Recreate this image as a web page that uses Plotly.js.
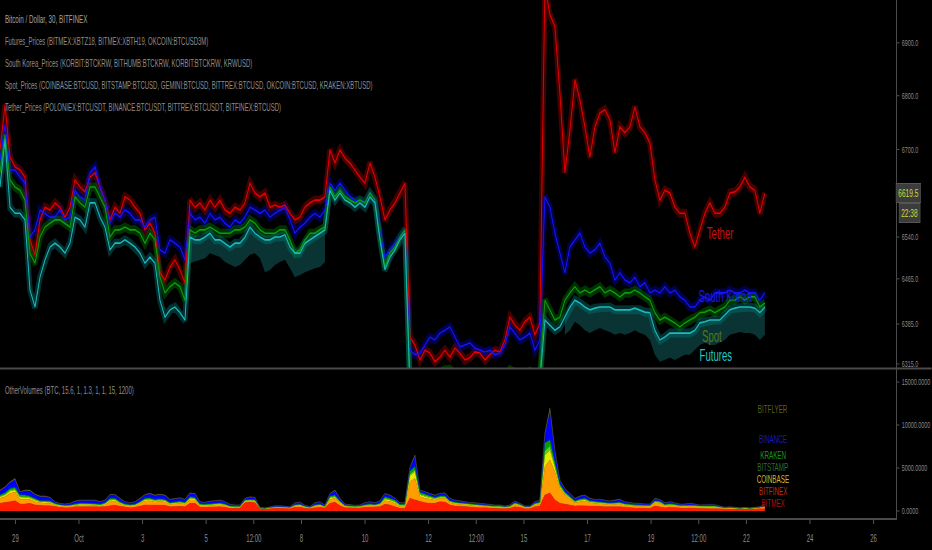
<!DOCTYPE html>
<html>
<head>
<meta charset="utf-8">
<script src="https://cdn.plot.ly/plotly-3.0.1.min.js"></script>
<style>
  html, body { margin: 0; padding: 0; background: #000; overflow: hidden; width: 932px; height: 550px; }
  #wrap { width: 1553px; height: 550px; transform: scaleX(0.6); transform-origin: 0 0; }
</style>
</head>
<body>
<div id="wrap"><div id="chart"></div></div>
<script>
// ---------- sampling grid (one sample every ~3.77 h, 30-min chart resampled) ----------
const startTime = Date.UTC(2018, 8, 28, 12, 21);
const stepMinutes = 226.5;

// ---------- price series (USD) ----------
const tether = [
  6699, 6783, 6686, 6668, 6662, 6649, 6535, 6508, 6571, 6594,
  6589, 6602, 6594, 6576, 6594, 6644, 6631, 6622, 6649, 6657,
  6631, 6607, 6571, 6594, 6583, 6613, 6607, 6594, 6583, 6553,
  6565, 6547, 6476, 6463, 6486, 6499, 6481, 6458, 6607, 6594,
  6602, 6589, 6607, 6594, 6607, 6589, 6583, 6594, 6589, 6602,
  6638, 6620, 6613, 6620, 6594, 6598, 6594, 6598, 6583, 6571,
  6576, 6594, 6602, 6607, 6607, 6613, 6699, 6675, 6699, 6684,
  6675, 6662, 6649, 6638, 6675, 6649, 6613, 6571, 6589, 6602,
  6620, 6638,
  6362, 6348, 6322, 6339, 6334, 6319, 6327, 6339,
  6327, 6343, 6334, 6322, 6326, 6336, 6334, 6322, 6331, 6339,
  6336, 6357, 6397, 6383, 6374, 6389, 6397, 6366, 6387,
  7010, 6954, 6931, 6805, 6657, 6736, 6830, 6792, 6742, 6686, 6742,
  6768, 6774, 6755, 6694, 6742, 6731, 6742, 6779, 6742, 6731,
  6712, 6644, 6607, 6625, 6620, 6594, 6583, 6583, 6547, 6522,
  6553, 6583, 6602, 6583, 6583, 6594, 6620, 6622, 6631, 6649,
  6631, 6625, 6583, 6620
];
const southKorea = [
  6681, 6746, 6662, 6662, 6649, 6638, 6540, 6553, 6589, 6583,
  6576, 6576, 6589, 6571, 6576, 6625, 6613, 6607, 6657, 6668,
  6631, 6607, 6565, 6583, 6576, 6589, 6583, 6571, 6571, 6558,
  6571, 6576, 6517, 6511, 6535, 6529, 6522, 6499, 6583, 6571,
  6576, 6565, 6583, 6571, 6576, 6565, 6558, 6571, 6565, 6576,
  6594, 6589, 6583, 6589, 6576, 6583, 6589, 6594, 6571, 6547,
  6558, 6565, 6576, 6583, 6576, 6589, 6638, 6625, 6638, 6625,
  6613, 6607, 6607, 6602, 6620, 6607, 6547, 6504, 6517, 6529,
  6540, 6553,
  6339, 6331, 6334, 6348, 6362, 6357, 6369, 6374,
  6380, 6362, 6345, 6348, 6352, 6343, 6339, 6336, 6339, 6331,
  6334, 6348, 6380, 6369, 6357, 6362, 6369, 6339, 6357,
  6613, 6594, 6547, 6511, 6476, 6522, 6535, 6547, 6522, 6511, 6517,
  6529, 6504, 6493, 6463, 6476, 6463, 6458, 6468, 6451, 6458,
  6440, 6445, 6440, 6451, 6440, 6445, 6433, 6427, 6415, 6415,
  6427, 6433, 6427, 6440, 6440, 6440, 6445, 6440, 6440, 6445,
  6440, 6440, 6427, 6440
];
const spot = [
  6657, 6727, 6644, 6631, 6625, 6607, 6511, 6493, 6540, 6558,
  6565, 6571, 6571, 6565, 6558, 6613, 6602, 6594, 6631, 6631,
  6613, 6594, 6540, 6553, 6553, 6558, 6553, 6553, 6547, 6529,
  6547, 6535, 6468, 6440, 6451, 6458, 6451, 6427, 6553, 6547,
  6553, 6553, 6558, 6553, 6547, 6547, 6547, 6553, 6553, 6558,
  6571, 6565, 6553, 6547, 6547, 6547, 6553, 6553, 6535, 6511,
  6517, 6535, 6547, 6547, 6553, 6558, 6631, 6613, 6625, 6613,
  6607, 6602, 6607, 6602, 6620, 6607, 6540, 6486, 6511, 6522,
  6540, 6553,
  6285, 6278, 6280, 6290, 6298, 6295, 6302, 6305, 6306, 6296,
  6288, 6290, 6292, 6287, 6284, 6282, 6285, 6279, 6281, 6290,
  6305, 6300, 6295, 6298, 6302, 6285, 6296,
  6427, 6410, 6392, 6397, 6427, 6440, 6451, 6440, 6445, 6440, 6445,
  6451, 6440, 6445, 6440, 6433, 6440, 6440, 6445, 6440, 6433,
  6427, 6405, 6392, 6397, 6392, 6387, 6380, 6387, 6392, 6397,
  6405, 6406, 6410, 6405, 6410, 6415, 6427, 6427, 6433, 6427,
  6433, 6433, 6415, 6422
];
const futures = [
  6631, 6718, 6594, 6583, 6583, 6571, 6445, 6415, 6468, 6499,
  6522, 6529, 6522, 6511, 6529, 6576, 6571, 6558, 6602, 6602,
  6576, 6558, 6517, 6529, 6529, 6535, 6529, 6522, 6511, 6493,
  6504, 6493, 6427, 6397, 6410, 6415, 6405, 6392, 6540, 6535,
  6535, 6540, 6547, 6535, 6535, 6529, 6522, 6529, 6529, 6540,
  6558, 6547, 6540, 6535, 6535, 6540, 6540, 6544, 6522, 6511,
  6511, 6529, 6535, 6540, 6547, 6553, 6625, 6607, 6620, 6607,
  6602, 6594, 6602, 6594, 6613, 6602, 6535, 6481, 6504, 6517,
  6535, 6547,
  6272, 6265, 6268, 6278, 6285, 6282, 6288, 6292, 6293, 6283,
  6275, 6277, 6279, 6274, 6271, 6269, 6272, 6266, 6268, 6277,
  6293, 6288, 6282, 6285, 6290, 6272, 6284,
  6392, 6383, 6374, 6380, 6397, 6415, 6427, 6422, 6415, 6410, 6413,
  6415, 6415, 6415, 6410, 6410, 6410, 6410, 6413, 6410, 6406,
  6405, 6374, 6357, 6362, 6369, 6369, 6369, 6369, 6369, 6374,
  6387, 6389, 6392, 6392, 6392, 6401, 6410, 6413, 6415, 6415,
  6415, 6413, 6405, 6415
];
// lower edge of the shaded futures band (two stretches)
const futBandStartA = 38;
const futuresLowA = [
  6493, 6495, 6499, 6502, 6511, 6508, 6504, 6495, 6490, 6486,
  6490, 6499, 6508, 6511, 6502, 6477, 6481, 6490, 6495, 6499,
  6484, 6468, 6472, 6477, 6481, 6484, 6486, 6495
];
const futBandStartB = 113;
const futuresLowB = [
  6366, 6374, 6389, 6383, 6374, 6369, 6374, 6378, 6374, 6371,
  6366, 6369, 6366, 6369, 6374, 6369, 6366, 6357, 6331, 6319,
  6322, 6326, 6322, 6327, 6331, 6331, 6339, 6348, 6352, 6348,
  6348, 6352, 6357, 6366, 6369, 6371, 6369, 6369, 6366, 6357, 6366
];

// ---------- volumes (BTC), stacked ----------
const volBitmex = [
  890, 960, 1080, 1190, 810, 810, 890, 700, 620, 620,
  620, 500, 430, 380, 380, 500, 500, 500, 500, 500,
  430, 500, 620, 660, 550, 430, 380, 430, 580, 700,
  700, 660, 660, 660, 500, 550, 550, 500, 890, 890,
  430, 430, 460, 460, 500, 430, 310, 310, 310, 960,
  1040, 960, 230, 200, 270, 310, 310, 270, 270, 430,
  430, 310, 270, 380, 430, 350, 890, 1010, 620, 380,
  350, 310, 350, 430, 460, 430, 500, 780, 700, 500,
  310, 310, 1470, 1280, 1080, 960, 890, 890, 1080, 1040,
  700, 580, 550, 500, 430, 430, 380, 380, 350, 310,
  310, 270, 310, 500, 430, 270, 270, 500, 580, 1860,
  2090, 1280, 890, 810, 700, 580, 620, 620, 580, 550,
  550, 500, 460, 500, 500, 430, 380, 350, 350, 310,
  310, 580, 500, 380, 430, 380, 310, 310, 350, 310,
  270, 270, 270, 270, 230, 200, 230, 200, 200, 200,
  200, 200, 230, 270
];
const volBitfinex = [
  580, 700, 970, 1010, 550, 550, 460, 380, 350, 280,
  280, 160, 150, 120, 160, 160, 200, 200, 200, 160,
  150, 230, 460, 500, 270, 190, 200, 190, 310, 460,
  500, 380, 460, 380, 280, 270, 350, 280, 380, 380,
  190, 150, 200, 230, 230, 190, 150, 120, 120, 200,
  150, 200, 80, 70, 120, 120, 120, 120, 80, 150,
  190, 150, 120, 200, 190, 120, 460, 460, 350, 160,
  150, 150, 150, 190, 200, 190, 230, 420, 430, 390,
  190, 190, 1930, 2520, 580, 510, 460, 380, 390, 430,
  270, 230, 230, 200, 190, 190, 200, 160, 150, 150,
  150, 160, 150, 280, 190, 160, 160, 200, 230, 3250,
  3830, 3280, 1740, 1040, 660, 380, 460, 550, 380, 350,
  350, 310, 270, 280, 310, 230, 200, 200, 200, 190,
  190, 380, 390, 230, 230, 200, 190, 190, 200, 190,
  200, 200, 200, 200, 150, 120, 120, 120, 70, 120,
  70, 120, 120, 160
];
const volCoinbase = [
  170, 210, 260, 250, 230, 230, 170, 180, 100, 140,
  120, 100, 70, 70, 70, 70, 90, 90, 90, 90,
  90, 100, 180, 140, 120, 90, 70, 70, 90, 140,
  140, 140, 140, 140, 90, 100, 100, 100, 170, 140,
  90, 90, 90, 90, 90, 90, 50, 50, 50, 50,
  70, 70, 20, 20, 20, 30, 30, 40, 40, 70,
  70, 40, 20, 50, 70, 40, 170, 170, 90, 50,
  40, 40, 40, 50, 70, 50, 70, 210, 160, 170,
  130, 130, 700, 770, 230, 230, 170, 140, 120, 140,
  100, 100, 90, 90, 70, 70, 70, 50, 70, 50,
  50, 30, 50, 90, 70, 30, 30, 90, 100, 1400,
  1160, 550, 230, 170, 140, 100, 140, 140, 100, 100,
  90, 90, 90, 90, 90, 90, 90, 70, 70, 70,
  70, 100, 100, 70, 90, 90, 70, 70, 70, 70,
  50, 50, 50, 50, 50, 30, 40, 30, 20, 30,
  20, 30, 40, 70
];
const volBitstamp = [
  80, 90, 120, 110, 100, 100, 80, 80, 50, 60,
  50, 50, 30, 30, 30, 30, 40, 40, 40, 40,
  40, 50, 80, 60, 50, 40, 30, 30, 40, 60,
  60, 60, 60, 60, 40, 50, 50, 50, 80, 60,
  40, 40, 40, 40, 40, 40, 20, 20, 20, 20,
  30, 30, 10, 10, 10, 10, 10, 20, 20, 30,
  30, 20, 10, 20, 30, 20, 80, 80, 40, 20,
  20, 20, 20, 20, 30, 20, 30, 90, 70, 80,
  60, 60, 200, 200, 100, 100, 80, 60, 50, 60,
  50, 50, 40, 40, 30, 30, 30, 20, 30, 20,
  20, 10, 20, 40, 30, 10, 10, 40, 50, 500,
  470, 230, 100, 80, 60, 50, 60, 60, 50, 50,
  40, 40, 40, 40, 40, 40, 40, 30, 30, 30,
  30, 50, 50, 30, 40, 40, 30, 30, 30, 30,
  20, 20, 20, 20, 20, 10, 20, 10, 10, 10,
  10, 10, 20, 30
];
const volKraken = [
  130, 160, 200, 190, 170, 170, 130, 130, 80, 100,
  100, 80, 50, 60, 50, 50, 70, 70, 70, 60,
  70, 80, 130, 110, 100, 70, 50, 60, 60, 110,
  110, 110, 100, 110, 60, 80, 80, 80, 130, 110,
  70, 70, 60, 70, 70, 70, 50, 50, 50, 50,
  60, 50, 10, 20, 20, 30, 30, 20, 20, 50,
  60, 20, 20, 50, 60, 20, 130, 130, 70, 50,
  20, 20, 20, 50, 50, 50, 60, 160, 120, 130,
  90, 90, 340, 380, 180, 170, 130, 110, 100, 100,
  80, 80, 60, 70, 60, 60, 50, 50, 60, 50,
  50, 30, 50, 60, 60, 30, 30, 70, 80, 890,
  700, 380, 170, 130, 100, 80, 110, 110, 80, 80,
  60, 70, 70, 60, 70, 60, 70, 50, 50, 60,
  60, 80, 80, 60, 60, 70, 60, 60, 50, 60,
  50, 50, 50, 50, 50, 30, 20, 30, 20, 30,
  20, 30, 20, 50
];
const volBinance = [
  490, 600, 660, 890, 320, 490, 600, 430, 470, 470,
  370, 160, 140, 130, 170, 300, 320, 320, 390, 370,
  260, 260, 390, 390, 330, 230, 200, 260, 330, 390,
  470, 430, 470, 430, 330, 370, 360, 300, 390, 390,
  230, 200, 260, 260, 300, 230, 170, 130, 130, 170,
  260, 240, 20, 20, 50, 100, 100, 100, 50, 200,
  230, 100, 50, 230, 260, 130, 260, 490, 260, 130,
  100, 100, 100, 200, 230, 200, 260, 330, 320, 200,
  160, 160, 390, 1160, 230, 230, 260, 230, 260, 300,
  240, 200, 200, 160, 160, 160, 140, 130, 130, 100,
  100, 60, 100, 170, 100, 60, 60, 160, 200, 990,
  3300, 1160, 390, 330, 330, 240, 300, 320, 240, 200,
  240, 230, 200, 260, 300, 200, 160, 170, 170, 130,
  130, 240, 200, 160, 200, 160, 130, 130, 170, 130,
  100, 130, 100, 130, 60, 30, 50, 30, 20, 30,
  20, 30, 50, 200
];
const volBitflyer = [
  90, 100, 110, 150, 60, 90, 100, 70, 80, 80,
  60, 30, 20, 20, 30, 50, 60, 60, 70, 60,
  40, 50, 70, 70, 60, 40, 30, 40, 60, 70,
  80, 70, 80, 70, 60, 60, 60, 50, 70, 70,
  40, 30, 50, 40, 50, 40, 30, 20, 20, 30,
  40, 40, 20, 20, 20, 20, 20, 20, 20, 30,
  40, 20, 20, 40, 40, 20, 50, 90, 50, 20,
  20, 20, 20, 30, 40, 30, 40, 60, 60, 30,
  30, 30, 70, 200, 40, 40, 50, 40, 50, 50,
  40, 30, 30, 30, 30, 30, 20, 20, 20, 20,
  20, 20, 20, 30, 20, 20, 20, 30, 30, 170,
  420, 200, 70, 60, 60, 40, 50, 60, 40, 30,
  40, 40, 30, 50, 50, 30, 30, 30, 30, 20,
  20, 40, 30, 30, 30, 30, 20, 20, 30, 20,
  20, 20, 20, 20, 20, 20, 20, 20, 20, 20,
  20, 20, 20, 30
];

// ---------- axis ticks ----------
const dateTickVals = ['2018-09-29', '2018-10-01', '2018-10-03', '2018-10-05', '2018-10-06 12:00',
  '2018-10-08', '2018-10-10', '2018-10-12', '2018-10-13 12:00', '2018-10-15', '2018-10-17',
  '2018-10-19', '2018-10-20 12:00', '2018-10-22', '2018-10-24', '2018-10-26'];
const dateTickText = ['29', 'Oct', '3', '5', '12:00', '8', '10', '12', '12:00', '15', '17', '19', '12:00', '22', '24', '26'];
const priceTickVals = [6900, 6800, 6700, 6540, 6465, 6385, 6315];
const priceTickText = ['6900.0', '6800.0', '6700.0', '6540.0', '6465.0', '6385.0', '6315.0'];
const volTickVals = [0, 5000, 10000, 15000];
const volTickText = ['0.0000', '5000.0000', '10000.0000', '15000.0000'];
const lastPrice = 6619.5;
const lastPriceText = '6619.5';
const countdownText = '22:38';

// ---------- build ----------
const times = tether.map((_, k) =>
  new Date(startTime + k * stepMinutes * 60000).toISOString().slice(0, 19).replace('T', ' '));

const FONT = 'Liberation Sans, Arial, sans-serif';
const NARROW = 'Liberation Sans Narrow, Liberation Sans, sans-serif';
const traces = [];

function band(start, low) {
  const xs = times.slice(start, start + low.length);
  const top = futures.slice(start, start + low.length);
  return {
    x: xs.concat(xs.slice().reverse()),
    y: top.concat(low.slice().reverse()),
    xaxis: 'x', yaxis: 'y', type: 'scatter', mode: 'lines',
    fill: 'toself', fillcolor: '#0a3434', line: { width: 0 },
    hoverinfo: 'skip', showlegend: false
  };
}
traces.push(band(futBandStartA, futuresLowA));
traces.push(band(futBandStartB, futuresLowB));

const priceSeries = [
  { y: tether, color: '#e60000', glow: 'rgba(150,0,0,0.45)' },
  { y: southKorea, color: '#1414ff', glow: 'rgba(0,0,170,0.45)' },
  { y: spot, color: '#0c9c0c', glow: 'rgba(0,110,0,0.45)' },
  { y: futures, color: '#1cbaba', glow: 'rgba(0,120,120,0.40)' }
];
priceSeries.forEach(s => {
  traces.push({ x: times, y: s.y, xaxis: 'x', yaxis: 'y', type: 'scatter', mode: 'lines',
    line: { color: s.glow, width: 9 }, hoverinfo: 'skip', showlegend: false });
});
priceSeries.forEach(s => {
  traces.push({ x: times, y: s.y, xaxis: 'x', yaxis: 'y', type: 'scatter', mode: 'lines',
    line: { color: s.color, width: 1.6 }, showlegend: false });
});

const volSeries = [
  { y: volBitmex, color: '#ff1e00' },
  { y: volBitfinex, color: '#ff9c00' },
  { y: volCoinbase, color: '#e8e800' },
  { y: volBitstamp, color: '#5ccc2a' },
  { y: volKraken, color: '#00a400' },
  { y: volBinance, color: '#0000ff' },
  { y: volBitflyer, color: '#6e6e1c' }
];
volSeries.forEach(s => {
  traces.push({ x: times, y: s.y, xaxis: 'x2', yaxis: 'y2', type: 'scatter', mode: 'lines',
    stackgroup: 'vol', line: { color: s.color, width: 0.5 }, fillcolor: s.color, showlegend: false });
});

const PW = 1493;               // plot width in layout px
const PH = 518;                // plot height in layout px
const px = v => v / 0.6 / PW;  // reference x pixel -> paper
const py = v => (PH - v) / PH; // reference y pixel -> paper

const ann = [];
function txt(text, x, y, color, size, anchor, family) {
  ann.push({ text, x: px(x), y: py(y), xref: 'paper', yref: 'paper', showarrow: false,
    xanchor: anchor || 'left', yanchor: 'middle', borderpad: 0,
    font: { family: family || FONT, size, color } });
}
txt('Bitcoin / Dollar, 30, BITFINEX', 4, 19, '#a0a0a0', 10.5);
txt('Futures_Prices (BITMEX:XBTZ18, BITMEX:XBTH19, OKCOIN:BTCUSD3M)', 4, 41.5, '#8c8c8c', 10);
txt('South Korea_Prices (KORBIT:BTCKRW, BITHUMB:BTCKRW, KORBIT:BTCKRW, KRWUSD)', 4, 63.5, '#8c8c8c', 10);
txt('Spot_Prices (COINBASE:BTCUSD, BITSTAMP:BTCUSD, GEMINI:BTCUSD, BITTREX:BTCUSD, OKCOIN:BTCUSD, KRAKEN:XBTUSD)', 4, 85.5, '#8c8c8c', 10);
txt('Tether_Prices (POLONIEX:BTCUSDT, BINANCE:BTCUSDT, BITTREX:BTCUSDT, BITFINEX:BTCUSD)', 4, 107.5, '#8c8c8c', 10);
txt('OtherVolumes (BTC, 15.6, 1, 1.3, 1, 1, 15, 1200)', 4, 390, '#8c8c8c', 10);

txt('Tether', 720, 233, '#cc1010', 16, 'center');
txt('South Korea', 725, 296, '#1c1cd8', 16, 'center');
txt('Spot', 712, 336, '#4f7a18', 16, 'center');
txt('Futures', 716, 355, '#1cc8c8', 16, 'center');

[['BITFLYER', 409, '#5e5e16'], ['BINANCE', 439, '#1a1ab8'], ['KRAKEN', 455, '#169a16'],
 ['BITSTAMP', 467, '#2e6c2e'], ['COINBASE', 479, '#ccb834'], ['BITFINEX', 491, '#b83414'],
 ['BITMEX', 503, '#ac1010']].forEach(([t, y, c]) => {
  txt(t, 773, y, c, 10.5, 'center', NARROW);
});

ann.push({ text: lastPriceText, x: 1.0, xref: 'paper', y: Math.log10(lastPrice), yref: 'y',
  showarrow: false, xanchor: 'left', yanchor: 'middle', bgcolor: '#3c3c3c', bordercolor: '#555',
  borderwidth: 1, borderpad: 3, font: { family: FONT, size: 11, color: '#c5df3a' } });
ann.push({ text: countdownText, x: px(899), xref: 'paper', y: py(213), yref: 'paper',
  showarrow: false, xanchor: 'left', yanchor: 'middle', bgcolor: '#3c3c3c', bordercolor: '#555',
  borderwidth: 1, borderpad: 3, font: { family: FONT, size: 11, color: '#c5df3a' } });

const axisFont = { family: FONT, size: 9, color: '#8a8a8a' };
const xRange = ['2018-09-28 12:21', '2018-10-26 16:48'];

const layout = {
  width: 1553, height: 550,
  margin: { l: 0, r: 60, t: 0, b: 32, pad: 0 },
  paper_bgcolor: '#000', plot_bgcolor: '#000',
  showlegend: false,
  font: { family: FONT, color: '#8a8a8a' },
  xaxis: { type: 'date', range: xRange, anchor: 'y', domain: [0, 1], showticklabels: false,
    showgrid: false, zeroline: false, showline: false, ticks: '' },
  yaxis: { type: 'log', domain: [0.2896, 1], range: [Math.log10(6308), Math.log10(6982)],
    side: 'right', anchor: 'x', tickvals: priceTickVals, ticktext: priceTickText,
    showgrid: false, zeroline: false, showline: true, linecolor: '#4a4a4a', linewidth: 2,
    ticks: 'outside', ticklen: 4, tickcolor: '#6a6a6a', tickfont: axisFont, ticklabelstandoff: 2 },
  xaxis2: { type: 'date', range: xRange, anchor: 'y2', domain: [0, 1],
    tickvals: dateTickVals, ticktext: dateTickText, tickangle: 0,
    showgrid: false, zeroline: false, showline: true, linecolor: '#4a4a4a', linewidth: 2,
    ticks: 'outside', ticklen: 4, tickcolor: '#6a6a6a',
    tickfont: { family: FONT, size: 10, color: '#8a8a8a' }, ticklabelstandoff: 6 },
  yaxis2: { domain: [0, 0.2876], range: [-814, 16515], side: 'right', anchor: 'x2',
    tickvals: volTickVals, ticktext: volTickText,
    showgrid: false, zeroline: false, showline: true, linecolor: '#4a4a4a', linewidth: 2,
    ticks: 'outside', ticklen: 4, tickcolor: '#6a6a6a', tickfont: axisFont, ticklabelstandoff: 2 },
  shapes: [
    { type: 'line', xref: 'paper', yref: 'paper', x0: 0, x1: 1553 / PW, y0: py(368.5), y1: py(368.5),
      line: { color: '#4a4a4a', width: 2 } }
  ],
  annotations: ann
};

Plotly.newPlot('chart', traces, layout, { staticPlot: true, displayModeBar: false });
</script>
</body>
</html>
